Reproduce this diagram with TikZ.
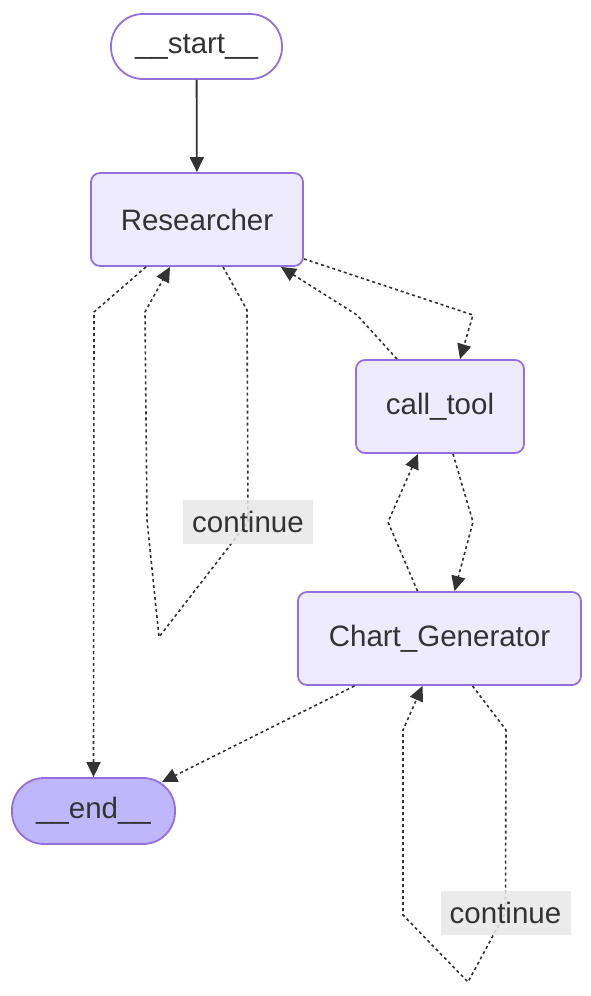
\documentclass[tikz,border=0pt]{standalone}
\usepackage{fontspec}
\setmainfont{Liberation Sans}
\usetikzlibrary{arrows.meta,calc}
\definecolor{nodefill}{HTML}{EEEBFE}
\definecolor{nodeline}{HTML}{9370DB}
\definecolor{endfill}{HTML}{BFB6FC}
\definecolor{ink}{HTML}{333333}
\definecolor{lblbg}{HTML}{E8E8E8}
\begin{document}
\begin{tikzpicture}[x=1pt,y=-1pt,
  every node/.style={font=\fontsize{29.5}{34}\selectfont, text=ink},
  box/.style={draw=nodeline, fill=nodefill, line width=1.8pt, rounded corners=9pt, inner sep=0pt},
  pill/.style={draw=nodeline, line width=1.8pt, rounded corners=32pt, inner sep=0pt},
  solidedge/.style={draw=ink, line width=1.8pt, -{Triangle[length=15pt,width=14pt]}},
  dotedge/.style={draw=ink, line width=1.6pt, dash pattern=on 3pt off 3pt, -{Triangle[length=15pt,width=14pt]}},
  lbl/.style={fill=lblbg, fill opacity=0.85, text opacity=1, inner sep=0pt, minimum width=130pt, minimum height=44pt},
]
\useasboundingbox (0,0) rectangle (590,996);

% nodes
\node[pill, fill=white, minimum width=171pt, minimum height=65pt] (start) at (196.5,46.5) {\_\_start\_\_};
\node[box, minimum width=212pt, minimum height=93pt] (res) at (197,219.5) {Researcher};
\node[box, minimum width=168pt, minimum height=93pt] (call) at (440,406.5) {call\_tool};
\node[box, minimum width=283pt, minimum height=93pt] (chart) at (439.5,638.5) {Chart\_Generator};
\node[pill, fill=endfill, minimum width=163pt, minimum height=66pt] (end) at (93.5,811) {\_\_end\_\_};

% bend points
\coordinate (a1) at (94,312);
\coordinate (b1) at (247,310);
\coordinate (b2) at (159,637);
\coordinate (b3) at (147,520);
\coordinate (b4) at (145,312);
\coordinate (c1) at (473,315);
\coordinate (d1) at (357,315);
\coordinate (e1) at (473,522);
\coordinate (f1) at (388,522);
\coordinate (g1) at (162,782);
\coordinate (h1) at (506,730);
\coordinate (h2) at (468,982);
\coordinate (h3) at (403,915);
\coordinate (h4) at (403,730);
\coordinate (l1pos) at (248,522);
\coordinate (l2pos) at (505.5,912.5);

% edges
\draw[solidedge] (start) -- (res);
\draw[dotedge] ($(res.south)+(-51,0)$) -- (a1) -- (end.north);
\draw[dotedge] ($(res.south)+(26,0)$) -- (b1) -- (l1pos) -- (b2) -- (b3) -- (b4) -- ($(res.south)+(-27,0)$);
\draw[dotedge] ($(res.south east)+(0,-8)$) -- (c1) -- ($(call.north)+(20,0)$);
\draw[dotedge] ($(call.north)+(-43,0)$) -- (d1) -- ($(res.south east)+(-23,0)$);
\draw[dotedge] ($(call.south)+(13,0)$) -- (e1) -- ($(chart.north)+(15,0)$);
\draw[dotedge] ($(chart.north)+(-22,0)$) -- (f1) -- ($(call.south)+(-22,0)$);
\draw[dotedge] ($(chart.south)+(-85,0)$) -- (g1);
\draw[dotedge] ($(chart.south)+(33,0)$) -- (h1) -- (l2pos) -- (h2) -- (h3) -- (h4) -- ($(chart.south)+(-17,0)$);

% labels
\node[lbl] (l1) at (l1pos) {continue};
\node[lbl] (l2) at (l2pos) {continue};
\end{tikzpicture}
\end{document}
